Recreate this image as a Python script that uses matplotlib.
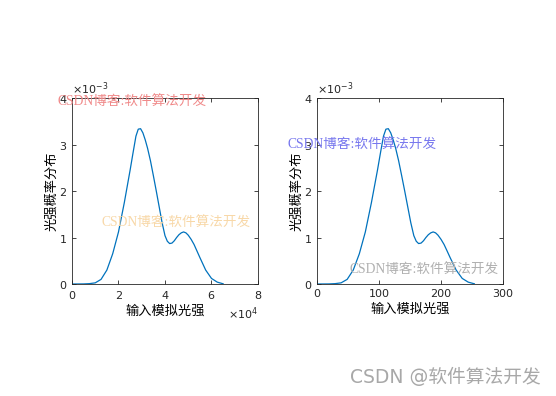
import matplotlib.pyplot as plt
from matplotlib.ticker import ScalarFormatter

plt.rcParams['font.family'] = ['DejaVu Sans', 'Noto Sans CJK SC']

# curve (left panel, x in raw intensity units)
x_left = [0, 5000, 7500, 10000, 12500, 15000, 17500, 20000, 22500, 25000,
          26250, 27500, 28500, 29500, 30500, 31500, 32500, 33750, 35000, 36250,
          37500, 38750, 40000, 41000, 42000, 43000, 44000, 45000, 46000, 47000,
          48000, 49000, 50000, 51250, 52500, 53750, 55000, 57500, 60000, 62500,
          65000]
# right panel, x in 8-bit intensity units
x_right = [0, 19.5, 29.3, 39, 48.8, 58.6, 68.4, 78.1, 87.9, 97.7,
           102.5, 107.4, 111.3, 115.2, 119.1, 123, 127, 131.8, 136.7, 141.6,
           146.5, 151.4, 156.3, 160.2, 164, 168, 171.9, 175.8, 179.7, 183.6,
           187.5, 191.4, 195.3, 200.2, 205.1, 210, 214.8, 224.6, 234.4, 244.1,
           253.9]
density = [0, 0.002e-3, 0.008e-3, 0.025e-3, 0.1e-3, 0.3e-3, 0.65e-3, 1.12e-3, 1.75e-3, 2.45e-3,
           2.82e-3, 3.18e-3, 3.33e-3, 3.34e-3, 3.25e-3, 3.1e-3, 2.92e-3, 2.65e-3, 2.33e-3, 2.0e-3,
           1.66e-3, 1.32e-3, 1.04e-3, 0.92e-3, 0.87e-3, 0.88e-3, 0.93e-3, 1.0e-3, 1.06e-3, 1.1e-3,
           1.12e-3, 1.1e-3, 1.05e-3, 0.96e-3, 0.85e-3, 0.71e-3, 0.57e-3, 0.3e-3, 0.12e-3, 0.04e-3,
           0.005e-3]

xlabel = '输入模拟光强'
ylabel = '光强概率分布'
mark = 'CSDN博客:软件算法开发'
line_color = '#0072BD'

fig = plt.figure(figsize=(5.56, 3.96), dpi=100)
ax1 = fig.add_axes([0.1295, 0.2828, 0.3345, 0.4697])
ax2 = fig.add_axes([0.570, 0.2828, 0.3345, 0.4697])


def style_axes(ax, xlim, xticks):
    ax.set_xlim(*xlim)
    ax.set_ylim(0, 4e-3)
    ax.set_xticks(xticks)
    ax.set_yticks([0, 1e-3, 2e-3, 3e-3, 4e-3])
    ax.tick_params(direction='in', top=True, right=True, labelsize=8,
                   length=3, width=0.6, colors='#262626')
    for s in ax.spines.values():
        s.set_linewidth(0.6)
        s.set_color('#262626')
    fy = ScalarFormatter(useMathText=True)
    fy.set_powerlimits((0, 0))
    ax.yaxis.set_major_formatter(fy)
    ax.yaxis.get_offset_text().set_fontsize(8)
    ax.set_xlabel(xlabel, fontsize=9.5, family=['Noto Sans CJK SC'], labelpad=3)
    ax.set_ylabel(ylabel, fontsize=9.5, family=['Noto Sans CJK SC'], labelpad=0)


ax1.plot(x_left, density, color=line_color, lw=0.9)
style_axes(ax1, (0, 80000), [0, 20000, 40000, 60000, 80000])
fx = ScalarFormatter(useMathText=True)
fx.set_powerlimits((0, 0))
ax1.xaxis.set_major_formatter(fx)
ax1.xaxis.get_offset_text().set_fontsize(8)

ax2.plot(x_right, density, color=line_color, lw=0.9)
style_axes(ax2, (0, 300), [0, 100, 200, 300])

# watermarks
wm_font = ['Liberation Serif', 'Noto Sans CJK SC']
fig.text(57 / 556, 1 - 102 / 396, mark, color='#f08a8a', fontsize=9.8,
         family=wm_font, va='center', ha='left')
fig.text(102 / 556, 1 - 223 / 396, mark, color='#f8d8a8', fontsize=9.8,
         family=wm_font, va='center', ha='left')
fig.text(288 / 556, 1 - 145 / 396, mark, color='#7878ee', fontsize=9.8,
         family=wm_font, va='center', ha='left')
fig.text(349 / 556, 1 - 270 / 396, mark, color='#b0b0b0', fontsize=9.8,
         family=wm_font, va='center', ha='left')
fig.text(350 / 556, 1 - 377 / 396, 'CSDN @软件算法开发', color='#a8a8a8',
         fontsize=13.5, family=['DejaVu Sans', 'Noto Sans CJK SC'],
         va='center', ha='left')

fig.savefig('out.png', dpi=100)
